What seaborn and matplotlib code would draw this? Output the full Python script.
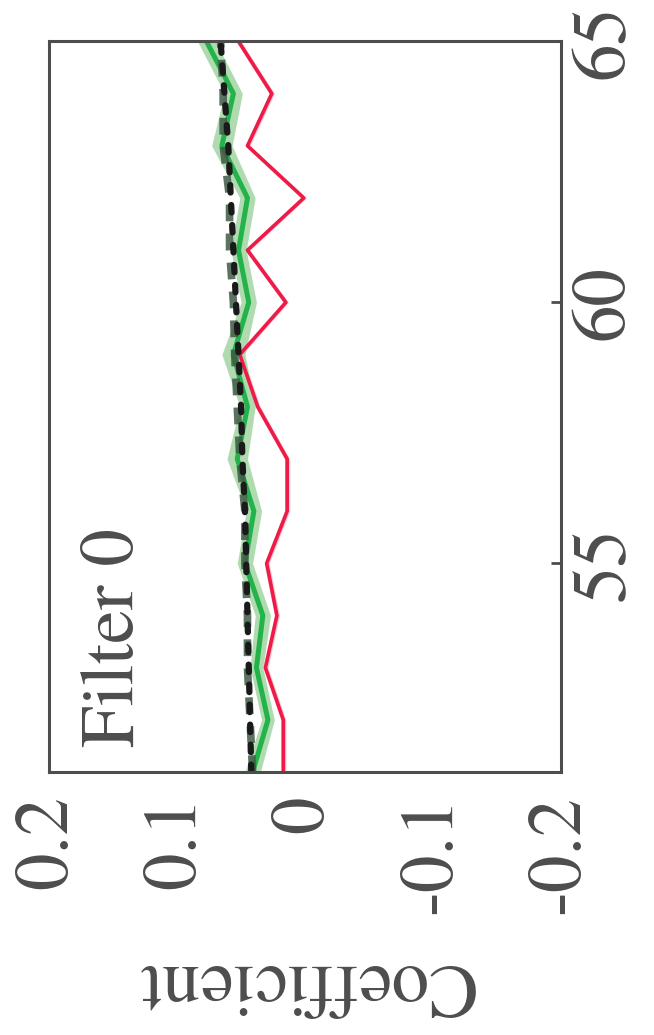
import numpy as np
import pandas as pd
import matplotlib
matplotlib.use('Agg')
import matplotlib.pyplot as plt
import seaborn as sns

# values (index along the filter, coefficient)
steps = list(range(51, 66))
red_coef = [0.017, 0.017, 0.031, 0.022, 0.030, 0.014, 0.014, 0.037, 0.051, 0.015,
            0.045, 0.001, 0.045, 0.026, 0.052]
green_coef = [0.041, 0.029, 0.038, 0.033, 0.047, 0.040, 0.053, 0.045, 0.056, 0.044,
              0.052, 0.045, 0.065, 0.056, 0.077]
green_err = [0.006, 0.005, 0.005, 0.006, 0.006, 0.006, 0.008, 0.006, 0.009, 0.006,
             0.006, 0.006, 0.008, 0.007, 0.007]
dashed_coef = [0.041, 0.043, 0.045, 0.045, 0.047, 0.047, 0.051, 0.053, 0.055, 0.056,
               0.059, 0.059, 0.064, 0.064, 0.066]
dotted_coef = [0.042, 0.043, 0.044, 0.045, 0.046, 0.047, 0.049, 0.050, 0.052, 0.054,
               0.056, 0.058, 0.060, 0.063, 0.066]

coef_ticks = [0.2, 0.1, 0.0, -0.1, -0.2]
coef_labels = ['0.2', '0.1', '0', '-0.1', '-0.2']
step_ticks = [55, 60, 65]
step_labels = ['55', '60', '65']
panel_title = 'Filter 0'
value_label = 'Coefficient'

sns.set_style('white')
plt.rcParams['font.family'] = ['TeX Gyre Termes', 'STIXGeneral', 'DejaVu Serif']
plt.rcParams['axes.unicode_minus'] = False

grey = '#4d4d4d'
fs = 54
df = pd.DataFrame({'step': steps, 'red': red_coef, 'green': green_coef,
                   'dashed': dashed_coef, 'dotted': dotted_coef})
lo = np.array(green_coef) - np.array(green_err)
hi = np.array(green_coef) + np.array(green_err)

fig = plt.figure(figsize=(6.54, 10.35), dpi=100)
ax = fig.add_axes([0.075, 0.254, 0.783, 0.706])

# figure is drawn turned by 90 degrees: steps run upward, coefficient runs leftward
ax.fill_betweenx(df['step'], np.array(red_coef) - 0.002, np.array(red_coef) + 0.002,
                 color='#f4a0b0', alpha=0.6, lw=0)
sns.lineplot(data=df, x='red', y='step', orient='y', errorbar=None, ax=ax,
             color='#ee1a48', lw=2.6)
ax.fill_betweenx(df['step'], lo, hi, color='#a8d8a8', alpha=0.9, lw=0)
sns.lineplot(data=df, x='green', y='step', orient='y', errorbar=None, ax=ax,
             color='#22b34a', lw=3.6)
sns.lineplot(data=df, x='dashed', y='step', orient='y', errorbar=None, ax=ax,
             color='#3e5a44', lw=5.5, alpha=0.85, linestyle=(0, (2.2, 1.6)))
sns.lineplot(data=df, x='dotted', y='step', orient='y', errorbar=None, ax=ax,
             color='#1a1a1a', lw=4.5, linestyle=(0, (1.2, 2.0)),
             dash_capstyle='round')

ax.set_xlim(0.2, -0.2)
ax.set_ylim(51, 65)
ax.set_xticks(coef_ticks)
ax.set_xticklabels(coef_labels, rotation=90, fontsize=fs, color=grey)
ax.yaxis.tick_right()
ax.set_yticks(step_ticks)
ax.set_yticklabels(step_labels, rotation=90, fontsize=fs, color=grey, va='center')
ax.tick_params(axis='x', direction='in', length=7, width=2, color=grey, pad=17)
ax.tick_params(axis='y', direction='in', length=7, width=2, color=grey, pad=7)
ax.set_ylabel('')
ax.set_xlabel(value_label, rotation=180, fontsize=fs, color=grey, labelpad=24)
for s in ax.spines.values():
    s.set_color(grey)
    s.set_linewidth(2.2)

ax.text(0.13, 0.035, panel_title, transform=ax.transAxes, rotation=90,
        ha='center', va='bottom', fontsize=fs, color=grey)

fig.savefig('out.png', dpi=100)
